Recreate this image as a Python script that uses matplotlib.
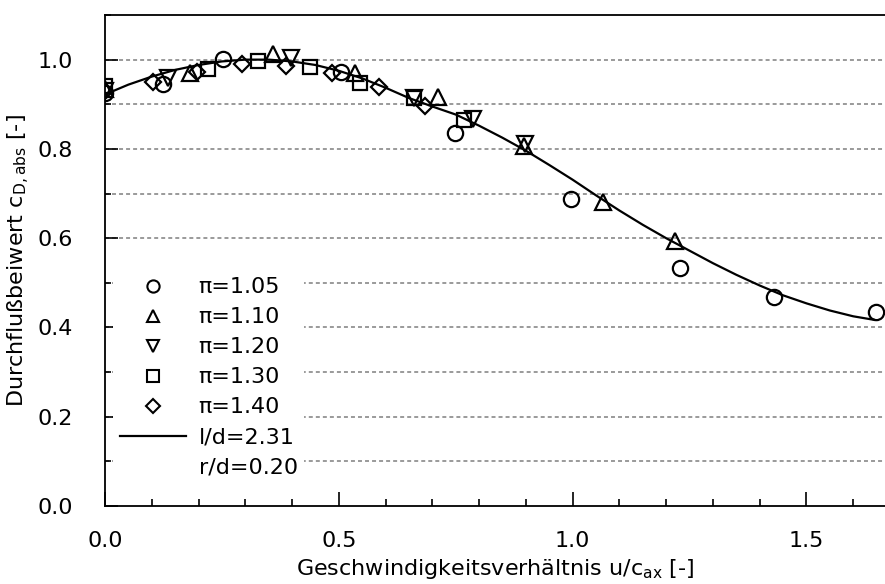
import matplotlib
matplotlib.use("Agg")
import matplotlib.pyplot as plt
from matplotlib.lines import Line2D
from matplotlib.ticker import MultipleLocator, FormatStrFormatter

plt.rcParams["font.family"] = ["DejaVu Sans"]
plt.rcParams["mathtext.default"] = "regular"
plt.rcParams["font.size"] = 16

# Messwerte je Druckverhältnis pi: (u/c_ax, c_D,abs)
x_105 = [0.0, 0.125, 0.253, 0.505, 0.749, 0.996, 1.229, 1.430, 1.649]
y_105 = [0.925, 0.945, 1.002, 0.972, 0.836, 0.687, 0.533, 0.468, 0.434]

x_110 = [0.0, 0.182, 0.360, 0.535, 0.713, 0.895, 1.066, 1.218]
y_110 = [0.935, 0.969, 1.013, 0.969, 0.917, 0.806, 0.682, 0.594]

x_120 = [0.0, 0.135, 0.398, 0.660, 0.786, 0.899]
y_120 = [0.930, 0.958, 1.003, 0.913, 0.867, 0.812]

x_130 = [0.0, 0.220, 0.328, 0.439, 0.545, 0.660, 0.767]
y_130 = [0.940, 0.980, 0.997, 0.984, 0.948, 0.913, 0.865]

x_140 = [0.0, 0.103, 0.197, 0.293, 0.388, 0.486, 0.587, 0.685]
y_140 = [0.930, 0.951, 0.973, 0.991, 0.985, 0.971, 0.939, 0.896]

# Ausgleichskurve l/d=2.31, r/d=0.20
x_fit = [0.0, 0.05, 0.1, 0.15, 0.2, 0.25, 0.3, 0.35, 0.4, 0.45, 0.5, 0.55,
         0.6, 0.65, 0.7, 0.75, 0.8, 0.85, 0.9, 0.95, 1.0, 1.05, 1.1, 1.15,
         1.2, 1.25, 1.3, 1.35, 1.4, 1.45, 1.5, 1.55, 1.6, 1.645]
y_fit = [0.922, 0.944, 0.962, 0.977, 0.988, 0.996, 1.0, 1.0, 0.996, 0.988,
         0.975, 0.958, 0.937, 0.914, 0.895, 0.877, 0.852, 0.825, 0.796,
         0.764, 0.731, 0.696, 0.662, 0.630, 0.600, 0.572, 0.544, 0.518,
         0.494, 0.472, 0.454, 0.438, 0.425, 0.417]

series = [
    (x_105, y_105, "o", 11, "π=1.05"),
    (x_110, y_110, "^", 11, "π=1.10"),
    (x_120, y_120, "v", 11, "π=1.20"),
    (x_130, y_130, "s", 10.5, "π=1.30"),
    (x_140, y_140, "D", 8.5, "π=1.40"),
]

fig = plt.figure(figsize=(8.85, 5.84), dpi=100)
ax = fig.add_axes([105 / 885, 1 - 506 / 584, 780 / 885, 491 / 584])

# gestrichelte Hilfslinien alle 0.1
for g in [0.1, 0.2, 0.3, 0.4, 0.5, 0.6, 0.7, 0.8, 0.9, 1.0]:
    ax.axhline(g, color="#7f7f7f", lw=1.1, ls=(0, (2.6, 2.0)), zorder=1)

ax.plot(x_fit, y_fit, color="black", lw=1.6, zorder=3)

handles = []
for xs, ys, m, ms, lab in series:
    ax.plot(xs, ys, ls="none", marker=m, ms=ms, mfc="none", mec="black",
            mew=1.6, zorder=4)
    handles.append(Line2D([], [], ls="none", marker=m, ms=ms * 0.8,
                          mfc="none", mec="black", mew=1.5, label=lab))
handles.append(Line2D([], [], color="black", lw=1.6, label="l/d=2.31"))
handles.append(Line2D([], [], ls="none", label="r/d=0.20"))

leg = ax.legend(handles=handles, loc="lower left",
                bbox_to_anchor=(-0.004, 0.022), frameon=True,
                facecolor="white", edgecolor="none", framealpha=1,
                handlelength=3.0, handletextpad=0.55, labelspacing=0.45,
                borderpad=0.3, fontsize=16)
leg.set_zorder(5)

ax.set_xlim(0, 1.668)
ax.set_ylim(0, 1.1)
ax.xaxis.set_major_locator(MultipleLocator(0.5))
ax.xaxis.set_minor_locator(MultipleLocator(0.1))
ax.yaxis.set_major_locator(MultipleLocator(0.2))
ax.yaxis.set_minor_locator(MultipleLocator(0.1))
ax.xaxis.set_major_formatter(FormatStrFormatter("%.1f"))
ax.yaxis.set_major_formatter(FormatStrFormatter("%.1f"))
ax.tick_params(which="both", direction="in", top=False, right=False,
               width=1.2, labelsize=16)
ax.tick_params(axis="x", which="major", length=10, pad=18)
ax.tick_params(axis="x", which="minor", length=5)
ax.tick_params(axis="y", which="major", length=9, pad=23)
ax.tick_params(axis="y", which="minor", length=4)

ax.spines["right"].set_visible(False)
for s in ["left", "bottom", "top"]:
    ax.spines[s].set_linewidth(1.3)

ax.set_xlabel("Geschwindigkeitsverhältnis u/c$_{ax}$ [-]", fontsize=16,
              labelpad=4)
ax.set_ylabel("Durchflußbeiwert c$_{D,abs}$ [-]", fontsize=16, labelpad=4)

fig.savefig("out.png", dpi=100)
